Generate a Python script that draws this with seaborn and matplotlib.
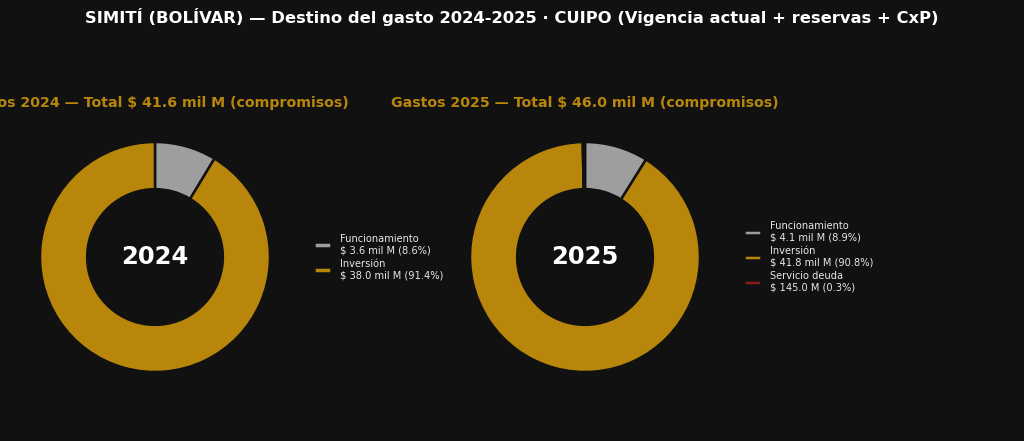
import matplotlib
matplotlib.use("Agg")
import matplotlib.pyplot as plt
import seaborn as sns

# Data (mil millones de pesos, compromisos)
years = ["2024", "2025"]
categories_2024 = ["Funcionamiento", "Inversión"]
values_2024 = [3.6, 38.0]
categories_2025 = ["Funcionamiento", "Inversión", "Servicio deuda"]
values_2025 = [4.1, 41.8, 0.145]
labels_2024 = ["$ 3.6 mil M (8.6%)", "$ 38.0 mil M (91.4%)"]
labels_2025 = ["$ 4.1 mil M (8.9%)", "$ 41.8 mil M (90.8%)", "$ 145.0 M (0.3%)"]
totals = ["41.6", "46.0"]

bg = "#111111"
sns.set_theme(style="dark", rc={"figure.facecolor": bg, "axes.facecolor": bg,
                                "savefig.facecolor": bg, "text.color": "white"})
plt.rcParams["font.family"] = ["DejaVu Sans"]
palette = {"Funcionamiento": "#9e9e9e", "Inversión": "#b8860b", "Servicio deuda": "#8b1a1a"}

fig = plt.figure(figsize=(10.24, 4.41), dpi=100)
fig.suptitle("SIMITÍ (BOLÍVAR) — Destino del gasto 2024-2025 · CUIPO (Vigencia actual + reservas + CxP)",
             color="white", fontsize=11.8, fontweight="bold", y=0.982)

panels = [
    (years[0], categories_2024, values_2024, labels_2024, totals[0], 40 / 1024),
    (years[1], categories_2025, values_2025, labels_2025, totals[1], 470 / 1024),
]
for year, cats, vals, labs, total, left in panels:
    ax = fig.add_axes([left, 69 / 441, 230 / 1024, 230 / 441])
    ax.set_facecolor(bg)
    cols = [palette[c] for c in cats]
    wedges, _ = ax.pie(vals, colors=cols, startangle=90, counterclock=False,
                       wedgeprops=dict(width=0.41, edgecolor=bg, linewidth=1.8))
    ax.set_xlim(-1.0, 1.0)
    ax.set_ylim(-1.0, 1.0)
    ax.set_aspect("equal")
    ax.text(0, 0, year, ha="center", va="center", color="white",
            fontsize=17.5, fontweight="bold")
    ax.set_title(f"Gastos {year} — Total $ {total} mil M (compromisos)",
                 color="#b8860b", fontsize=10.2, fontweight="bold", pad=25)
    leg = ax.legend(wedges, [f"{c}\n{l}" for c, l in zip(cats, labs)],
                    loc="center left", bbox_to_anchor=(1.152, 0.5), frameon=False,
                    fontsize=7.1, labelcolor="#e8e8e8", handlelength=1.75,
                    handleheight=0.5, labelspacing=0.35, handletextpad=0.9)

fig.savefig("out.png", dpi=100, facecolor=bg)
